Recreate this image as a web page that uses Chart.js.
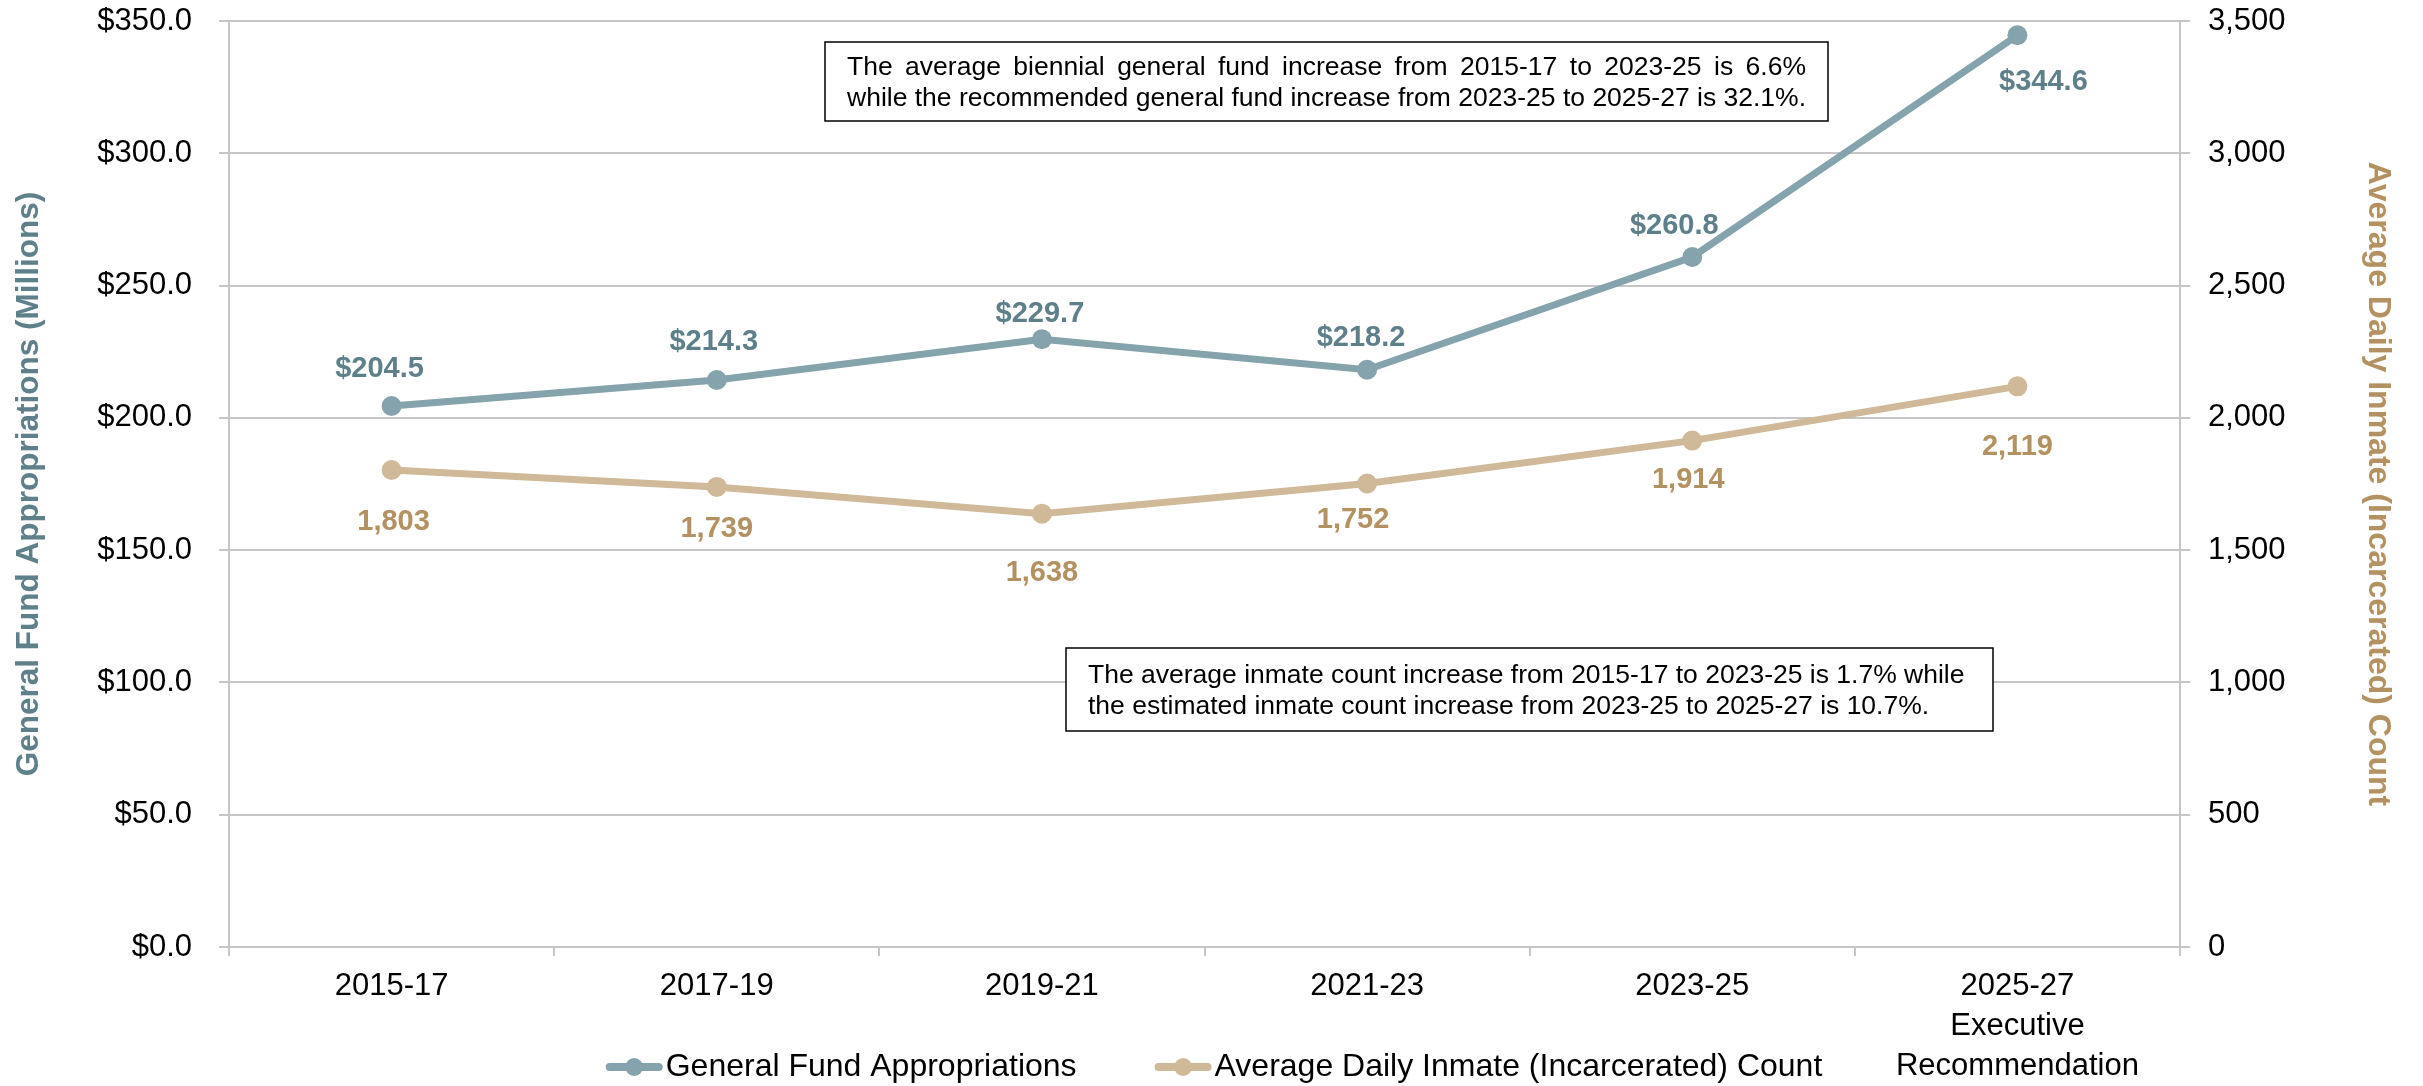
<!DOCTYPE html>
<html>
<head>
<meta charset="utf-8">
<script src="https://cdn.jsdelivr.net/npm/chart.js@4.4.1/dist/chart.umd.min.js"></script>
<style>
html,body{margin:0;padding:0;background:#fff;overflow:hidden}
#wrap{width:2423px;height:1086px;position:relative}
</style>
</head>
<body>
<div id="wrap"><canvas id="c" width="2423" height="1086"></canvas></div>
<script>
// ---- data ----
const categories = [['2015-17'], ['2017-19'], ['2019-21'], ['2021-23'], ['2023-25'], ['2025-27', 'Executive', 'Recommendation']];
const generalFund = [204.5, 214.3, 229.7, 218.2, 260.8, 344.6];
const inmateCount = [1803, 1739, 1638, 1752, 1914, 2119];
const seriesNames = ['General Fund Appropriations', 'Average Daily Inmate (Incarcerated) Count'];
const leftAxisTitle = 'General Fund Appropriations (Millions)';
const rightAxisTitle = 'Average Daily Inmate (Incarcerated) Count';
const leftRange = [0, 350, 50];
const rightRange = [0, 3500, 500];
const noteTexts = [
  ['The average biennial general fund increase from 2015-17 to 2023-25 is 6.6%',
   'while the recommended general fund increase from 2023-25 to 2025-27 is 32.1%.'],
  ['The average inmate count increase from 2015-17 to 2023-25 is 1.7% while',
   'the estimated inmate count increase from 2023-25 to 2025-27 is 10.7%.']
];

// ---- styles ----
const FONT = '"Liberation Sans", Arial, sans-serif';
const GF_LINE = '#85A3AC', GF_TEXT = '#5E808B';
const IN_LINE = '#D0B998', IN_TEXT = '#B39160';
const GRID = '#C6C6C6';
Chart.defaults.font.family = FONT;

const fmtMoney = v => '$' + Number(v).toFixed(1);
const fmtCount = v => Number(v).toLocaleString('en-US');

const pointLabels = {
  id: 'pointLabels',
  afterDatasetsDraw(chart, args, opts) {
    const ctx = chart.ctx;
    chart.data.datasets.forEach((ds, di) => {
      const meta = chart.getDatasetMeta(di);
      const cfg = opts.series[di];
      ctx.save();
      ctx.font = 'bold 29px ' + FONT;
      ctx.fillStyle = cfg.color;
      ctx.textAlign = 'center';
      ctx.textBaseline = 'middle';
      meta.data.forEach((pt, i) => {
        const off = cfg.offsets[i];
        ctx.fillText(cfg.format(ds.data[i]), pt.x + off[0], pt.y + off[1]);
      });
      ctx.restore();
    });
  }
};

const notes = {
  id: 'notes',
  afterDraw(chart, args, opts) {
    const ctx = chart.ctx;
    opts.boxes.forEach((b, bi) => {
      const lines = noteTexts[bi];
      ctx.save();
      ctx.fillStyle = '#fff';
      ctx.fillRect(b.x, b.y, b.w, b.h);
      ctx.strokeStyle = '#000';
      ctx.lineWidth = 1.5;
      ctx.strokeRect(b.x, b.y, b.w, b.h);
      ctx.font = opts.font;
      ctx.fillStyle = '#000';
      ctx.textBaseline = 'middle';
      ctx.textAlign = 'left';
      const cy = b.y + b.h / 2 + opts.textDy;
      const n = lines.length;
      const target = b.w - 2 * b.pad;
      lines.forEach((ln, i) => {
        const y = cy + (i - (n - 1) / 2) * opts.lineHeight;
        if (b.justify && i < n - 1) {
          const words = ln.split(' ');
          const ww = words.reduce((s, w) => s + ctx.measureText(w).width, 0);
          const gap = (target - ww) / (words.length - 1);
          let x = b.x + b.pad;
          words.forEach(w => { ctx.fillText(w, x, y); x += ctx.measureText(w).width + gap; });
        } else {
          ctx.fillText(ln, b.x + b.pad, y);
        }
      });
      ctx.restore();
    });
  }
};

const customLegend = {
  id: 'customLegend',
  afterDraw(chart, args, opts) {
    const ctx = chart.ctx;
    ctx.save();
    ctx.font = opts.fontSize + 'px ' + FONT;
    ctx.textBaseline = 'middle';
    ctx.textAlign = 'left';
    const ds = chart.data.datasets;
    const widths = ds.map(d => ctx.measureText(d.label).width);
    const total = ds.reduce((s, d, i) => s + opts.markerW + opts.textGap + widths[i], 0) + opts.itemGap * (ds.length - 1);
    let x = opts.centerX - total / 2;
    const y = opts.y;
    ds.forEach((d, i) => {
      ctx.strokeStyle = d.borderColor;
      ctx.lineWidth = opts.lineW;
      ctx.lineCap = 'round';
      ctx.beginPath();
      ctx.moveTo(x + opts.lineW / 2, y);
      ctx.lineTo(x + opts.markerW - opts.lineW / 2, y);
      ctx.stroke();
      ctx.fillStyle = d.pointBackgroundColor;
      ctx.beginPath();
      ctx.arc(x + opts.markerW / 2, y, opts.radius, 0, Math.PI * 2);
      ctx.fill();
      x += opts.markerW + opts.textGap;
      ctx.fillStyle = '#000';
      ctx.fillText(d.label, x, y);
      x += widths[i] + opts.itemGap;
    });
    ctx.restore();
  }
};

const noVerticalPad = s => { s.paddingTop = 0; s.paddingBottom = 0; };

new Chart(document.getElementById('c'), {
  type: 'line',
  data: {
    labels: categories,
    datasets: [
      {
        label: seriesNames[0], data: generalFund, yAxisID: 'y',
        borderColor: GF_LINE, backgroundColor: GF_LINE, pointBackgroundColor: GF_LINE,
        borderWidth: 7, pointRadius: 10, pointBorderWidth: 0, tension: 0, fill: false
      },
      {
        label: seriesNames[1], data: inmateCount, yAxisID: 'y1',
        borderColor: IN_LINE, backgroundColor: IN_LINE, pointBackgroundColor: IN_LINE,
        borderWidth: 7, pointRadius: 10, pointBorderWidth: 0, tension: 0, fill: false
      }
    ]
  },
  options: {
    responsive: false,
    animation: false,
    devicePixelRatio: 1,
    layout: { padding: { top: 21, left: 0, right: 0, bottom: 0 } },
    plugins: {
      legend: { display: false },
      tooltip: { enabled: false },
      pointLabels: {
        series: [
          { color: GF_TEXT, format: fmtMoney, offsets: [[-12, -37], [-3, -38], [-2, -25], [-6, -32], [-18, -31], [26, 47]] },
          { color: IN_TEXT, format: fmtCount, offsets: [[2, 52], [0, 42], [0, 59], [-14, 37], [-4, 39], [0, 61]] }
        ]
      },
      notes: {
        font: '26.5px ' + FONT,
        lineHeight: 31,
        textDy: 1.5,
        boxes: [
          { x: 825, y: 42, w: 1003, h: 79, pad: 22, justify: true },
          { x: 1066, y: 648, w: 927, h: 83, pad: 22, justify: false }
        ]
      },
      customLegend: { fontSize: 32, centerX: 1214, y: 1067, markerW: 57, textGap: 3, itemGap: 78, lineW: 8, radius: 9 }
    },
    scales: {
      x: {
        type: 'category',
        offset: true,
        grid: { display: true, drawOnChartArea: false, drawTicks: true, tickLength: 9, color: GRID, lineWidth: 2, offset: true },
        border: { display: true, color: GRID, width: 2 },
        ticks: { color: '#000', font: { size: 31, family: FONT, lineHeight: 1.28 }, padding: 11, maxRotation: 0, autoSkip: false },
        afterFit: s => { s.height = 139; s.paddingLeft = 0; s.paddingRight = 0; }
      },
      y: {
        position: 'left',
        min: leftRange[0], max: leftRange[1],
        ticks: { stepSize: leftRange[2], callback: v => fmtMoney(v), color: '#000', font: { size: 31, family: FONT }, padding: 27 },
        grid: { color: GRID, lineWidth: 2, tickLength: 10, drawTicks: true },
        border: { display: true, color: GRID, width: 2 },
        title: { display: true, text: leftAxisTitle, color: GF_TEXT, font: { size: 31.5, weight: 'bold', family: FONT }, padding: { top: 10, bottom: 0 } },
        afterFit: s => { s.width = 229; noVerticalPad(s); }
      },
      y1: {
        position: 'right',
        min: rightRange[0], max: rightRange[1],
        ticks: { stepSize: rightRange[2], callback: v => fmtCount(v), color: '#000', font: { size: 31, family: FONT }, padding: 18 },
        grid: { drawOnChartArea: false, color: GRID, lineWidth: 2, tickLength: 10, drawTicks: true },
        border: { display: true, color: GRID, width: 2 },
        title: { display: true, text: rightAxisTitle, color: IN_TEXT, font: { size: 32, weight: 'bold', family: FONT }, padding: { top: 26, bottom: 0 } },
        afterFit: s => { s.width = 243; noVerticalPad(s); }
      }
    }
  },
  plugins: [pointLabels, notes, customLegend]
});
</script>
</body>
</html>
